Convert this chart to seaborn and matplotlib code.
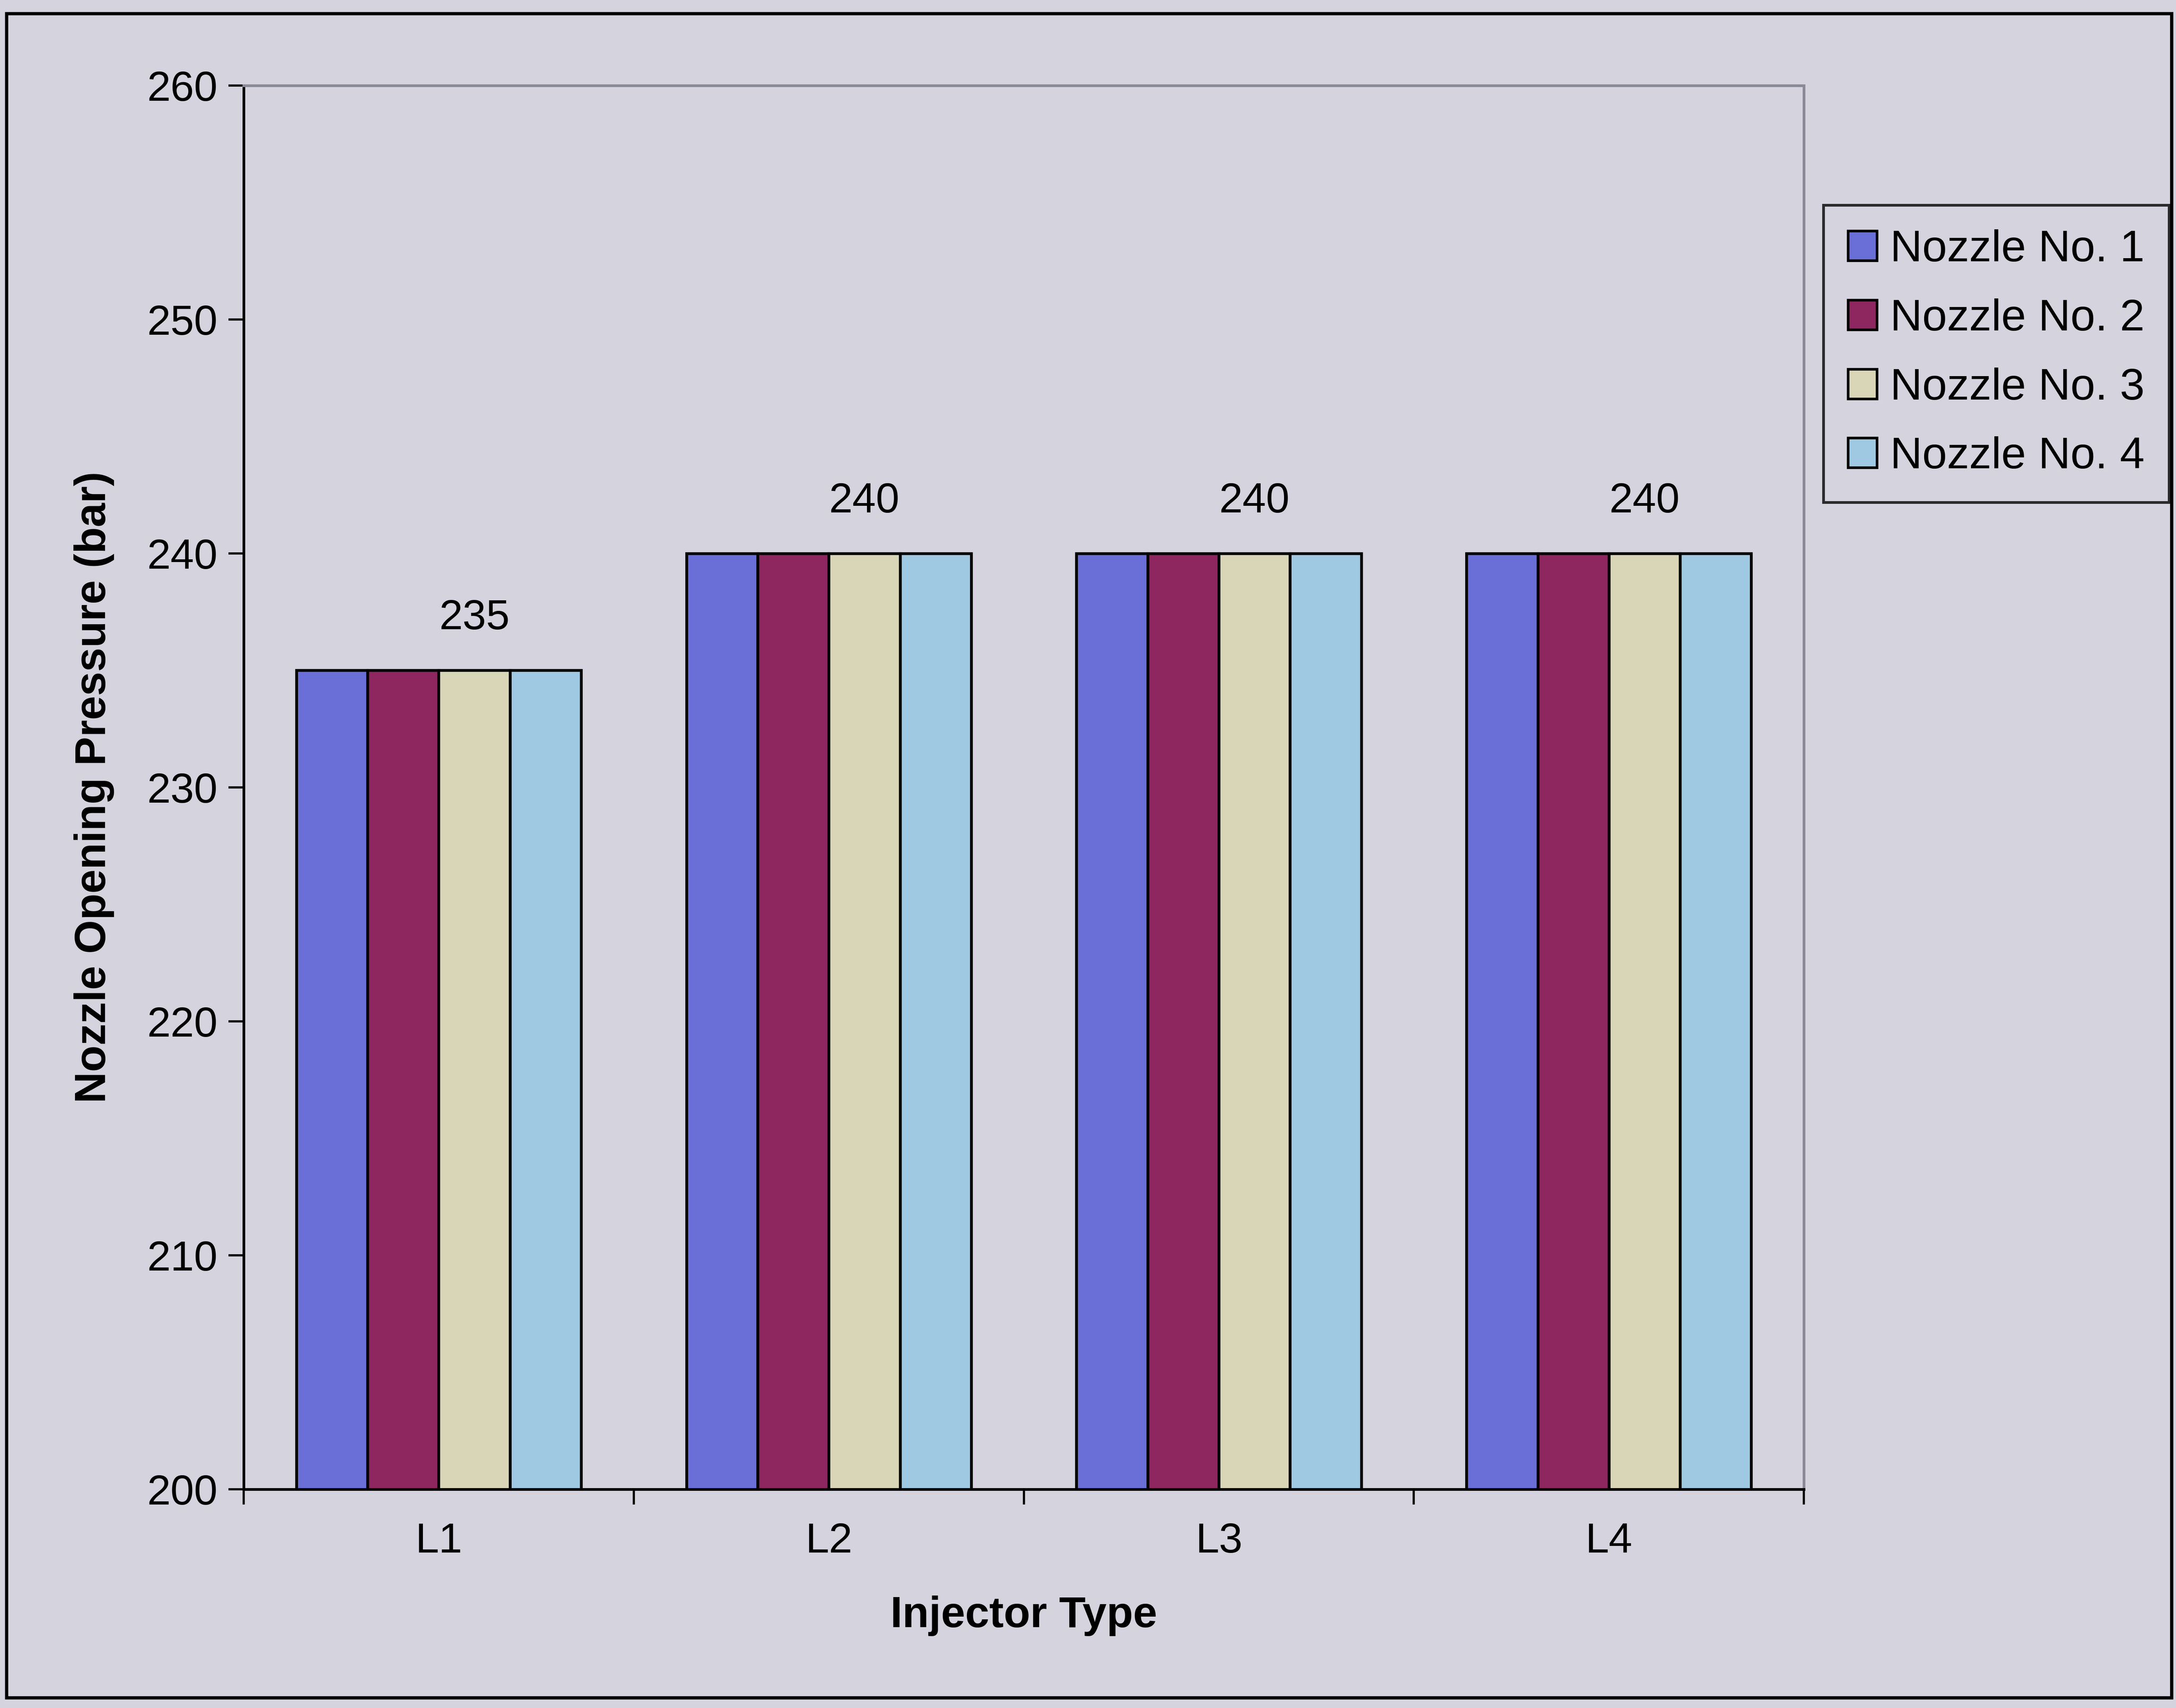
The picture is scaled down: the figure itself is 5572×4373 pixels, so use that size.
import matplotlib
matplotlib.use("Agg")
import matplotlib.pyplot as plt
from matplotlib.patches import Rectangle, Patch
from matplotlib.ticker import FixedLocator, NullFormatter
import seaborn as sns
import pandas as pd

# data
injectors = ["L1", "L2", "L3", "L4"]
nozzles = ["Nozzle No. 1", "Nozzle No. 2", "Nozzle No. 3", "Nozzle No. 4"]
nozzle1 = [235, 240, 240, 240]
nozzle2 = [235, 240, 240, 240]
nozzle3 = [235, 240, 240, 240]
nozzle4 = [235, 240, 240, 240]
colors = ["#6a6fd8", "#8e2660", "#d8d6b6", "#9fc9e2"]
bg = "#d5d3dd"

rows = []
for name, vals in zip(nozzles, [nozzle1, nozzle2, nozzle3, nozzle4]):
    for inj, v in zip(injectors, vals):
        rows.append({"Injector Type": inj, "Nozzle": name, "Pressure": v})
df = pd.DataFrame(rows)

sns.set_theme(style="white")
plt.rcParams["font.family"] = ["Liberation Sans", "DejaVu Sans"]
plt.rcParams["text.color"] = "black"
plt.rcParams["axes.labelcolor"] = "black"
plt.rcParams["xtick.color"] = "black"
plt.rcParams["ytick.color"] = "black"

fig = plt.figure(figsize=(27.86, 21.865), dpi=200, facecolor=bg)
ax = fig.add_axes([0.112, 0.128, 0.717, 0.822])
ax.set_facecolor(bg)

sns.barplot(data=df, x="Injector Type", y="Pressure", hue="Nozzle",
            palette=colors, width=0.73, edgecolor="black", linewidth=2.6,
            saturation=1, ax=ax, legend=False)

ax.set_ylim(200, 260)
ax.set_xlim(-0.5, 3.5)
ax.set_yticks(range(200, 261, 10))
ax.tick_params(axis="y", labelsize=39, length=14, width=2, direction="out",
               left=True, pad=10)

# category boundary ticks on x, labels at centres
ax.xaxis.set_major_locator(FixedLocator([-0.5, 0.5, 1.5, 2.5, 3.5]))
ax.xaxis.set_major_formatter(NullFormatter())
ax.xaxis.set_minor_locator(FixedLocator([0, 1, 2, 3]))
ax.set_xticklabels(injectors, minor=True)
ax.tick_params(axis="x", which="major", length=14, width=2, direction="out", bottom=True)
ax.tick_params(axis="x", which="minor", length=0, labelsize=39, pad=30)

for s in ["left", "bottom"]:
    ax.spines[s].set_color("black")
    ax.spines[s].set_linewidth(2.5)
for s in ["top", "right"]:
    ax.spines[s].set_color("#8a8a98")
    ax.spines[s].set_linewidth(2.5)

ax.set_xlabel("Injector Type", fontsize=40, fontweight="bold", labelpad=32)
ax.set_ylabel("Nozzle Opening Pressure (bar)", fontsize=40, fontweight="bold", labelpad=30)

# data labels above the third series only
third = ax.containers[2]
ax.bar_label(third, labels=[str(v) for v in nozzle3], fontsize=39, padding=30)

handles = [Patch(facecolor=c, edgecolor="black", linewidth=2.4) for c in colors]
leg = fig.legend(handles, nozzles, loc="upper left", bbox_to_anchor=(0.838, 0.880),
                 borderaxespad=0, fontsize=41, frameon=True, fancybox=False,
                 edgecolor="black", facecolor=bg, handlelength=0.65, handleheight=0.65,
                 handletextpad=0.3, labelspacing=0.62, borderpad=0.55)
leg.get_frame().set_linewidth(2.5)

fig.patches.append(Rectangle((0.003, 0.006), 0.995, 0.986, transform=fig.transFigure,
                             fill=False, edgecolor="black", linewidth=3))

fig.savefig("out.png", dpi=200, facecolor=bg)
